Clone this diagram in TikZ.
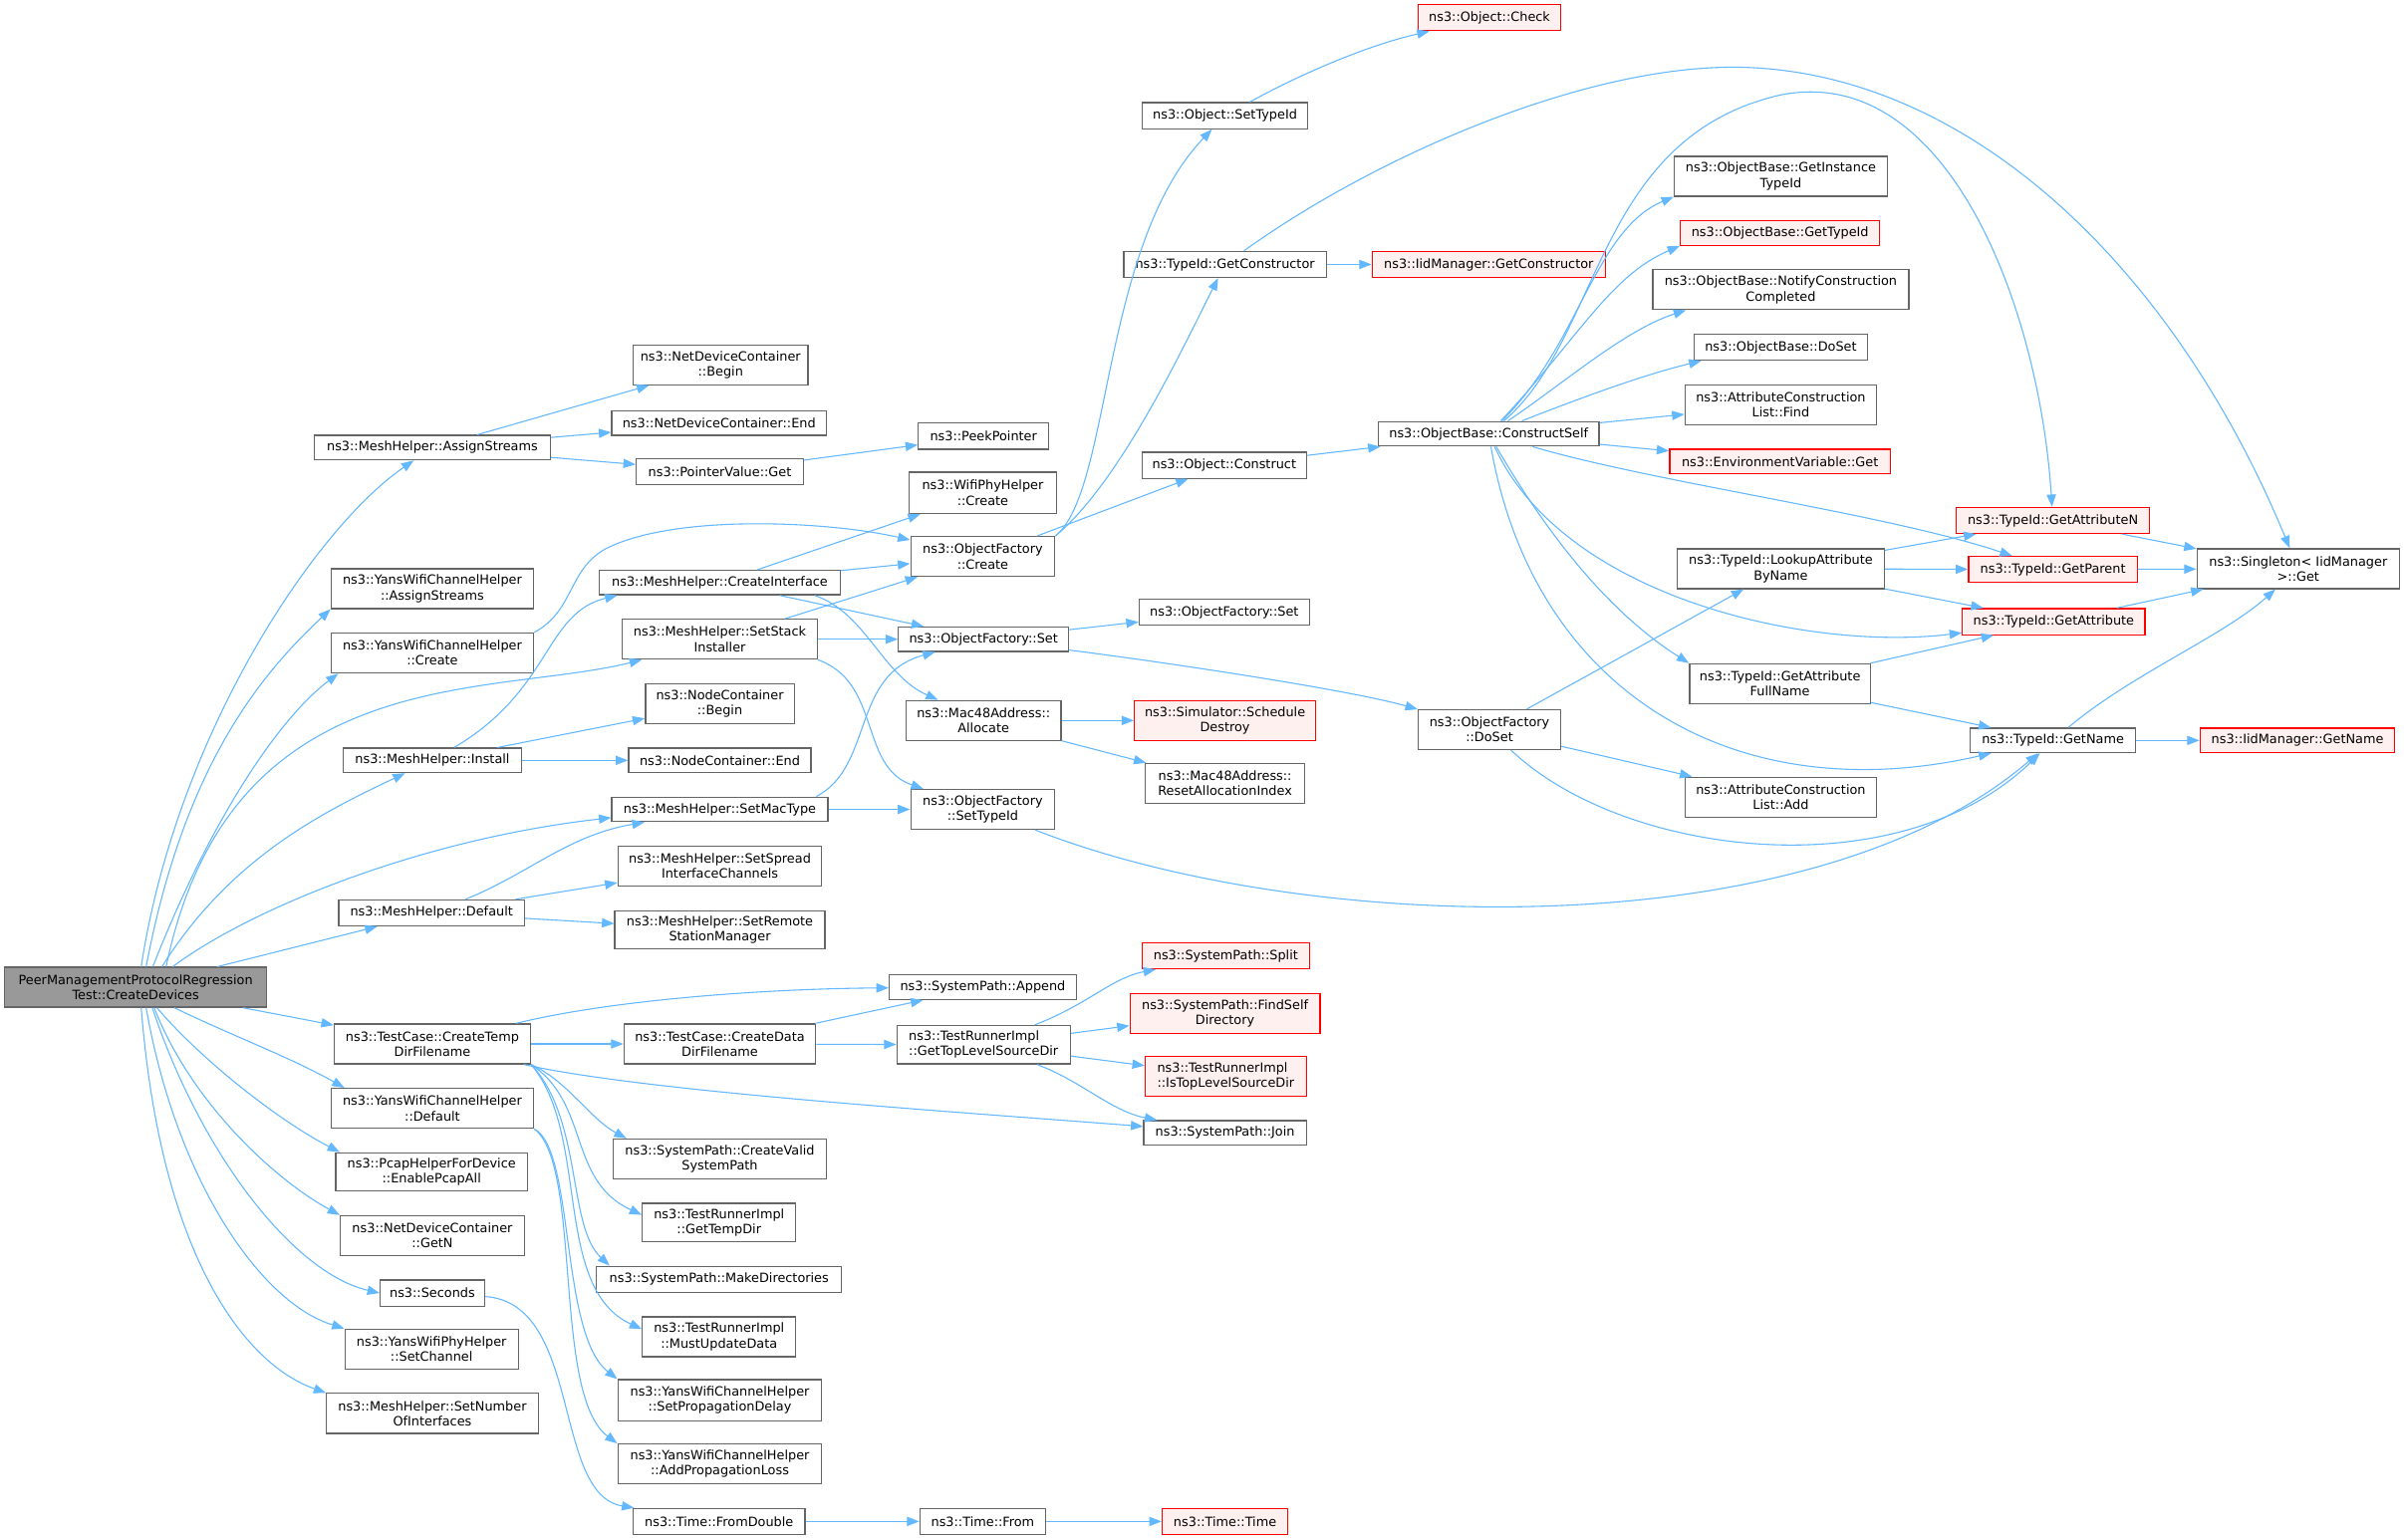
\documentclass[tikz,border=0pt]{standalone}
\usepackage{fontspec}
\setmainfont{DejaVu Sans}
\usetikzlibrary{arrows.meta}
\definecolor{edgeblue}{HTML}{63B8FF}
\definecolor{boxgray}{HTML}{666666}
\definecolor{rootgray}{HTML}{999999}
\definecolor{redfill}{HTML}{FFF0F0}
\begin{document}
\begin{tikzpicture}[x=1pt, y=1pt,
    font=\fontsize{8.35}{9.9}\selectfont,
    fn/.style = {draw=boxgray, fill=white, line width=0.8pt, inner sep=0pt, align=center},
    fnred/.style = {fn, draw=red, fill=redfill},
    fnroot/.style = {fn, fill=rootgray},
    sz/.style 2 args = {minimum width=#1pt, minimum height=#2pt},
    call/.style = {draw=edgeblue, line width=0.7pt, -{Triangle[length=8pt,width=6pt]}}]
\useasboundingbox (0,0) rectangle (1568,-1004);
\fill[white] (0,0) rectangle (1568,-1004);

\node[fnroot, sz={171}{26}] (root) at (88.5,-644) {PeerManagementProtocolRegression\\Test::CreateDevices};

\node[fn, sz={154}{16}] (msAssign) at (282,-292) {ns3::MeshHelper::AssignStreams};
\node[fn, sz={132}{26}] (ywAssign) at (282,-384) {ns3::YansWifiChannelHelper\\::AssignStreams};
\node[fn, sz={132}{26}] (ywCreate) at (282,-426) {ns3::YansWifiChannelHelper\\::Create};
\node[fn, sz={116}{16}] (msInstall) at (282,-496) {ns3::MeshHelper::Install};
\node[fn, sz={121}{17}] (msDefault) at (281.5,-595.5) {ns3::MeshHelper::Default};
\node[fn, sz={128}{26}] (tcTemp) at (282,-681) {ns3::TestCase::CreateTemp\\DirFilename};
\node[fn, sz={132}{26}] (ywDefault) at (282,-723) {ns3::YansWifiChannelHelper\\::Default};
\node[fn, sz={125}{25}] (pcap) at (281.5,-764.5) {ns3::PcapHelperForDevice\\::EnablePcapAll};
\node[fn, sz={120}{26}] (getN) at (282,-806) {ns3::NetDeviceContainer\\::GetN};
\node[fn, sz={68}{17}] (seconds) at (282,-843.5) {ns3::Seconds};
\node[fn, sz={113}{26}] (setChannel) at (281.5,-880) {ns3::YansWifiPhyHelper\\::SetChannel};
\node[fn, sz={138}{26}] (setNumIf) at (282,-922) {ns3::MeshHelper::SetNumber\\OfInterfaces};

\node[fn, sz={114}{26}] (ndcBegin) at (470,-238) {ns3::NetDeviceContainer\\::Begin};
\node[fn, sz={140}{16}] (ndcEnd) at (469,-276) {ns3::NetDeviceContainer::End};
\node[fn, sz={109}{17}] (pvGet) at (469.5,-307.5) {ns3::PointerValue::Get};
\node[fn, sz={157}{16}] (createIf) at (469.5,-380) {ns3::MeshHelper::CreateInterface};
\node[fn, sz={127}{26}] (setStack) at (469.5,-417) {ns3::MeshHelper::SetStack\\Installer};
\node[fn, sz={97}{26}] (ncBegin) at (469.5,-459) {ns3::NodeContainer\\::Begin};
\node[fn, sz={119}{16}] (ncEnd) at (469.5,-496) {ns3::NodeContainer::End};
\node[fn, sz={141}{16}] (setMac) at (469.5,-528) {ns3::MeshHelper::SetMacType};
\node[fn, sz={133}{26}] (setSpread) at (469.5,-565) {ns3::MeshHelper::SetSpread\\InterfaceChannels};
\node[fn, sz={137}{25}] (setRemote) at (469.5,-606.5) {ns3::MeshHelper::SetRemote\\StationManager};
\node[fn, sz={125}{26}] (tcData) at (469.5,-681) {ns3::TestCase::CreateData\\DirFilename};
\node[fn, sz={139}{26}] (createValid) at (469.5,-756) {ns3::SystemPath::CreateValid\\SystemPath};
\node[fn, sz={100}{25}] (getTempDir) at (469,-797.5) {ns3::TestRunnerImpl\\::GetTempDir};
\node[fn, sz={160}{17}] (makeDirs) at (469,-834.5) {ns3::SystemPath::MakeDirectories};
\node[fn, sz={100}{26}] (mustUpd) at (469,-872) {ns3::TestRunnerImpl\\::MustUpdateData};
\node[fn, sz={133}{27}] (setPropDelay) at (469.5,-913.5) {ns3::YansWifiChannelHelper\\::SetPropagationDelay};
\node[fn, sz={133}{26}] (addPropLoss) at (469.5,-955) {ns3::YansWifiChannelHelper\\::AddPropagationLoss};
\node[fn, sz={112}{17}] (fromDouble) at (469,-992.5) {ns3::Time::FromDouble};

\node[fn, sz={85}{17}] (peek) at (641.5,-284.5) {ns3::PeekPointer};
\node[fn, sz={96}{27}] (wifiCreate) at (641,-321.5) {ns3::WifiPhyHelper\\::Create};
\node[fn, sz={94}{26}] (ofCreate) at (641,-363) {ns3::ObjectFactory\\::Create};
\node[fn, sz={111}{16}] (ofSet) at (641.5,-417) {ns3::ObjectFactory::Set};
\node[fn, sz={101}{26}] (macAlloc) at (641.5,-470) {ns3::Mac48Address::\\Allocate};
\node[fn, sz={94}{26}] (ofSetTid) at (641,-528) {ns3::ObjectFactory\\::SetTypeId};
\node[fn, sz={122}{16}] (spAppend) at (641,-644) {ns3::SystemPath::Append};
\node[fn, sz={113}{25}, align=left] (trTop) at (641.5,-681.5) {ns3::TestRunnerImpl\\::GetTopLevelSourceDir};
\node[fn, sz={82}{17}] (timeFrom) at (641,-992.5) {ns3::Time::From};

\node[fn, sz={108}{17}] (objSetTid) at (799,-75.5) {ns3::Object::SetTypeId};
\node[fn, sz={132}{17}] (getCtor) at (799,-172.5) {ns3::TypeId::GetConstructor};
\node[fn, sz={107}{17}] (objConstruct) at (798.5,-303.5) {ns3::Object::Construct};
\node[fn, sz={111}{17}] (ofSet2) at (798.5,-399.5) {ns3::ObjectFactory::Set};
\node[fnred, sz={118}{26}] (schedDestroy) at (799,-470) {ns3::Simulator::Schedule\\Destroy};
\node[fn, sz={104}{26}] (resetAlloc) at (799,-511) {ns3::Mac48Address::\\ResetAllocationIndex};
\node[fnred, sz={109}{17}] (spSplit) at (799.5,-623.5) {ns3::SystemPath::Split};
\node[fnred, sz={124}{26}] (findSelf) at (799,-661) {ns3::SystemPath::FindSelf\\Directory};
\node[fnred, sz={105}{26}, align=left] (isTop) at (799.5,-702) {ns3::TestRunnerImpl\\::IsTopLevelSourceDir};
\node[fn, sz={106}{16}] (spJoin) at (799,-739) {ns3::SystemPath::Join};
\node[fnred, sz={82}{17}] (timeTime) at (799,-992.5) {ns3::Time::Time};

\node[fnred, sz={93}{17}] (objCheck) at (971.5,-11.5) {ns3::Object::Check};
\node[fnred, sz={152}{17}] (iidCtor) at (971,-172.5) {ns3::IidManager::GetConstructor};
\node[fn, sz={144}{16}] (constructSelf) at (971,-283) {ns3::ObjectBase::ConstructSelf};
\node[fn, sz={93}{26}] (ofDoSet) at (971.5,-476) {ns3::ObjectFactory\\::DoSet};

\node[fn, sz={139}{26}] (getInstTid) at (1161.5,-115) {ns3::ObjectBase::GetInstance\\TypeId};
\node[fnred, sz={130}{16}] (obGetTid) at (1161,-152) {ns3::ObjectBase::GetTypeId};
\node[fn, sz={167}{26}] (notify) at (1161.5,-189) {ns3::ObjectBase::NotifyConstruction\\Completed};
\node[fn, sz={113}{17}] (obDoSet) at (1161.5,-226.5) {ns3::ObjectBase::DoSet};
\node[fn, sz={125}{26}] (aclFind) at (1161.5,-264) {ns3::AttributeConstruction\\List::Find};
\node[fnred, sz={144}{16}] (envGet) at (1161,-301) {ns3::EnvironmentVariable::Get};
\node[fn, sz={135}{26}] (lookup) at (1161.5,-371) {ns3::TypeId::LookupAttribute\\ByName};
\node[fn, sz={118}{26}] (fullName) at (1161,-446) {ns3::TypeId::GetAttribute\\FullName};
\node[fn, sz={125}{26}] (aclAdd) at (1161.5,-520) {ns3::AttributeConstruction\\List::Add};

\node[fnred, sz={126}{17}] (getAttrN) at (1339,-339.5) {ns3::TypeId::GetAttributeN};
\node[fnred, sz={110}{17}] (getParent) at (1339,-371.5) {ns3::TypeId::GetParent};
\node[fnred, sz={119}{17}] (getAttr) at (1339.5,-405.5) {ns3::TypeId::GetAttribute};
\node[fn, sz={108}{16}] (getName) at (1339,-483) {ns3::TypeId::GetName};

\node[fn, sz={132}{26}] (singleton) at (1499,-371) {ns3::Singleton< IidManager\\>::Get};
\node[fnred, sz={127}{16}] (iidGetName) at (1498.5,-483) {ns3::IidManager::GetName};

\draw[call] (root.75) .. controls (115,-480) and (205,-345) .. (msAssign);
\draw[call] (root.63) .. controls (120,-500) and (170,-440) .. (ywAssign.south west);
\draw[call] (root.50) .. controls (135,-540) and (180,-470) .. ([xshift=5pt]ywCreate.south west);
\draw[call] (root.34) .. controls (150,-430) and (320,-455) .. ([xshift=13pt]setStack.south west);
\draw[call] (root.38) .. controls (150,-560) and (210,-530) .. (msInstall);
\draw[call] (root.29) .. controls (160,-595) and (270,-548) .. ([yshift=3pt]setMac.south west);
\draw[call] (root) -- (msDefault);
\draw[call] (root) -- (tcTemp);
\draw[call] (root.-28) .. controls (150,-675) and (190,-690) .. ([xshift=9pt]ywDefault.north west);
\draw[call] (root.-44) .. controls (130,-690) and (180,-730) .. ([xshift=3pt]pcap.north west);
\draw[call] (root.-48) .. controls (125,-720) and (180,-770) .. (getN.north west);
\draw[call] (root.-51) .. controls (130,-750) and (190,-830) .. (seconds.west);
\draw[call] (root.-63) .. controls (115,-770) and (170,-850) .. (setChannel.north west);
\draw[call] (root.-75) .. controls (105,-820) and (160,-890) .. (setNumIf.north west);

\draw[call] (msAssign) -- (ndcBegin);
\draw[call] (msAssign) -- (ndcEnd);
\draw[call] (msAssign) -- (pvGet);
\draw[call] (pvGet) -- (peek);
\draw[call] (ywCreate.north east) .. controls (375,-398) and (370,-372) .. (395,-358) .. controls (440,-335) and (540,-340) .. (ofCreate);
\draw[call] (createIf) -- (wifiCreate);
\draw[call] (createIf) -- (ofCreate);
\draw[call] (createIf) -- (ofSet);
\draw[call] ([xshift=-17pt]createIf.south east) .. controls (565,-400) and (575,-440) .. (macAlloc);
\draw[call] (setStack) -- (ofCreate);
\draw[call] (setStack) -- (ofSet);
\draw[call] (setStack.south east) .. controls (575,-445) and (560,-500) .. (ofSetTid);
\draw[call] (msInstall) .. controls (360,-450) and (355,-400) .. ([xshift=12pt]createIf.south west);
\draw[call] (msInstall) -- (ncBegin);
\draw[call] (msInstall) -- (ncEnd);
\draw[call] (msDefault) .. controls (345,-570) and (370,-545) .. (setMac);
\draw[call] (msDefault) -- (setSpread);
\draw[call] (msDefault) -- (setRemote);
\draw[call] ([xshift=-8pt]setMac.north east) .. controls (570,-500) and (555,-440) .. (ofSet);
\draw[call] (setMac) -- (ofSetTid);

\draw[call] (ofCreate.north east) .. controls (725,-320) and (718,-160) .. (objSetTid);
\draw[call] (ofCreate.north east) .. controls (730,-315) and (770,-230) .. (getCtor);
\draw[call] (ofCreate) -- (objConstruct);
\draw[call] (objSetTid) .. controls (845,-50) and (890,-30) .. (objCheck);
\draw[call] (getCtor) -- (iidCtor);
\draw[call] (getCtor) .. controls (900,-100) and (1040,-40) .. (1140,-44) .. controls (1290,-50) and (1420,-180) .. (singleton);
\draw[call] (objConstruct) -- (constructSelf);
\draw[call] (ofSet) -- (ofSet2);
\draw[call] (ofSet) .. controls (760,-432) and (880,-450) .. (ofDoSet);
\draw[call] (macAlloc) -- (schedDestroy);
\draw[call] (macAlloc) -- (resetAlloc);
\draw[call] (ofSetTid) .. controls (850,-610) and (1180,-620) .. (getName);

\draw[call] (ofDoSet) -- (lookup);
\draw[call] (ofDoSet) -- (aclAdd);
\draw[call] (ofDoSet) .. controls (1060,-560) and (1240,-580) .. (getName);

\draw[call] (constructSelf) .. controls (1045,-220) and (1040,-90) .. (1161,-62) .. controls (1270,-40) and (1330,-200) .. (getAttrN);
\draw[call] (constructSelf) .. controls (1030,-225) and (1040,-150) .. (getInstTid.south west);
\draw[call] (constructSelf) .. controls (1030,-220) and (1050,-180) .. (obGetTid.south west);
\draw[call] (constructSelf) .. controls (1020,-250) and (1060,-215) .. ([xshift=22pt]notify.south west);
\draw[call] (constructSelf) .. controls (1030,-260) and (1070,-245) .. ([xshift=5pt]obDoSet.south west);
\draw[call] (constructSelf) -- (aclFind);
\draw[call] (constructSelf) -- (envGet);
\draw[call] (constructSelf) .. controls (1080,-315) and (1230,-335) .. (getParent);
\draw[call] (constructSelf) .. controls (1020,-390) and (1180,-425) .. (getAttr);
\draw[call] (constructSelf) .. controls (1010,-350) and (1050,-400) .. (fullName.north west);
\draw[call] (constructSelf) .. controls (1000,-450) and (1130,-530) .. ([xshift=14pt]getName.south west);

\draw[call] (lookup) -- (getAttrN);
\draw[call] (lookup) -- (getParent);
\draw[call] (lookup) -- (getAttr);
\draw[call] (getAttrN) -- (singleton);
\draw[call] (getParent) -- (singleton);
\draw[call] (getAttr) -- (singleton);
\draw[call] (fullName) -- (getAttr);
\draw[call] (fullName) -- (getName);
\draw[call] (getName) .. controls (1390,-440) and (1450,-415) .. (singleton);
\draw[call] (getName) -- (iidGetName);

\draw[call] (tcTemp) .. controls (400,-652) and (500,-645) .. (spAppend);
\draw[call] (tcTemp) -- (tcData);
\draw[call] (tcTemp) .. controls (420,-712) and (620,-725) .. (spJoin);
\draw[call] (tcTemp.south east) .. controls (370,-705) and (385,-730) .. ([xshift=9pt]createValid.north west);
\draw[call] (tcTemp.south east) .. controls (385,-720) and (370,-770) .. ([yshift=5pt]getTempDir.west);
\draw[call] (tcTemp.south east) .. controls (380,-730) and (370,-800) .. ([xshift=9pt]makeDirs.north west);
\draw[call] (tcTemp.south east) .. controls (385,-740) and (360,-840) .. ([yshift=5pt]mustUpd.west);
\draw[call] (ywDefault.south east) .. controls (375,-750) and (365,-870) .. (setPropDelay.north west);
\draw[call] (ywDefault.south east) .. controls (380,-760) and (360,-910) .. (addPropLoss.north west);
\draw[call] (seconds) .. controls (380,-850) and (360,-975) .. (fromDouble);
\draw[call] (tcData) -- (spAppend);
\draw[call] (tcData) -- (trTop);
\draw[call] (trTop) .. controls (710,-655) and (725,-638) .. (spSplit);
\draw[call] (trTop) -- (findSelf);
\draw[call] (trTop) -- (isTop);
\draw[call] (trTop) .. controls (705,-705) and (725,-725) .. (spJoin);
\draw[call] (fromDouble) -- (timeFrom);
\draw[call] (timeFrom) -- (timeTime);
\end{tikzpicture}
\end{document}
